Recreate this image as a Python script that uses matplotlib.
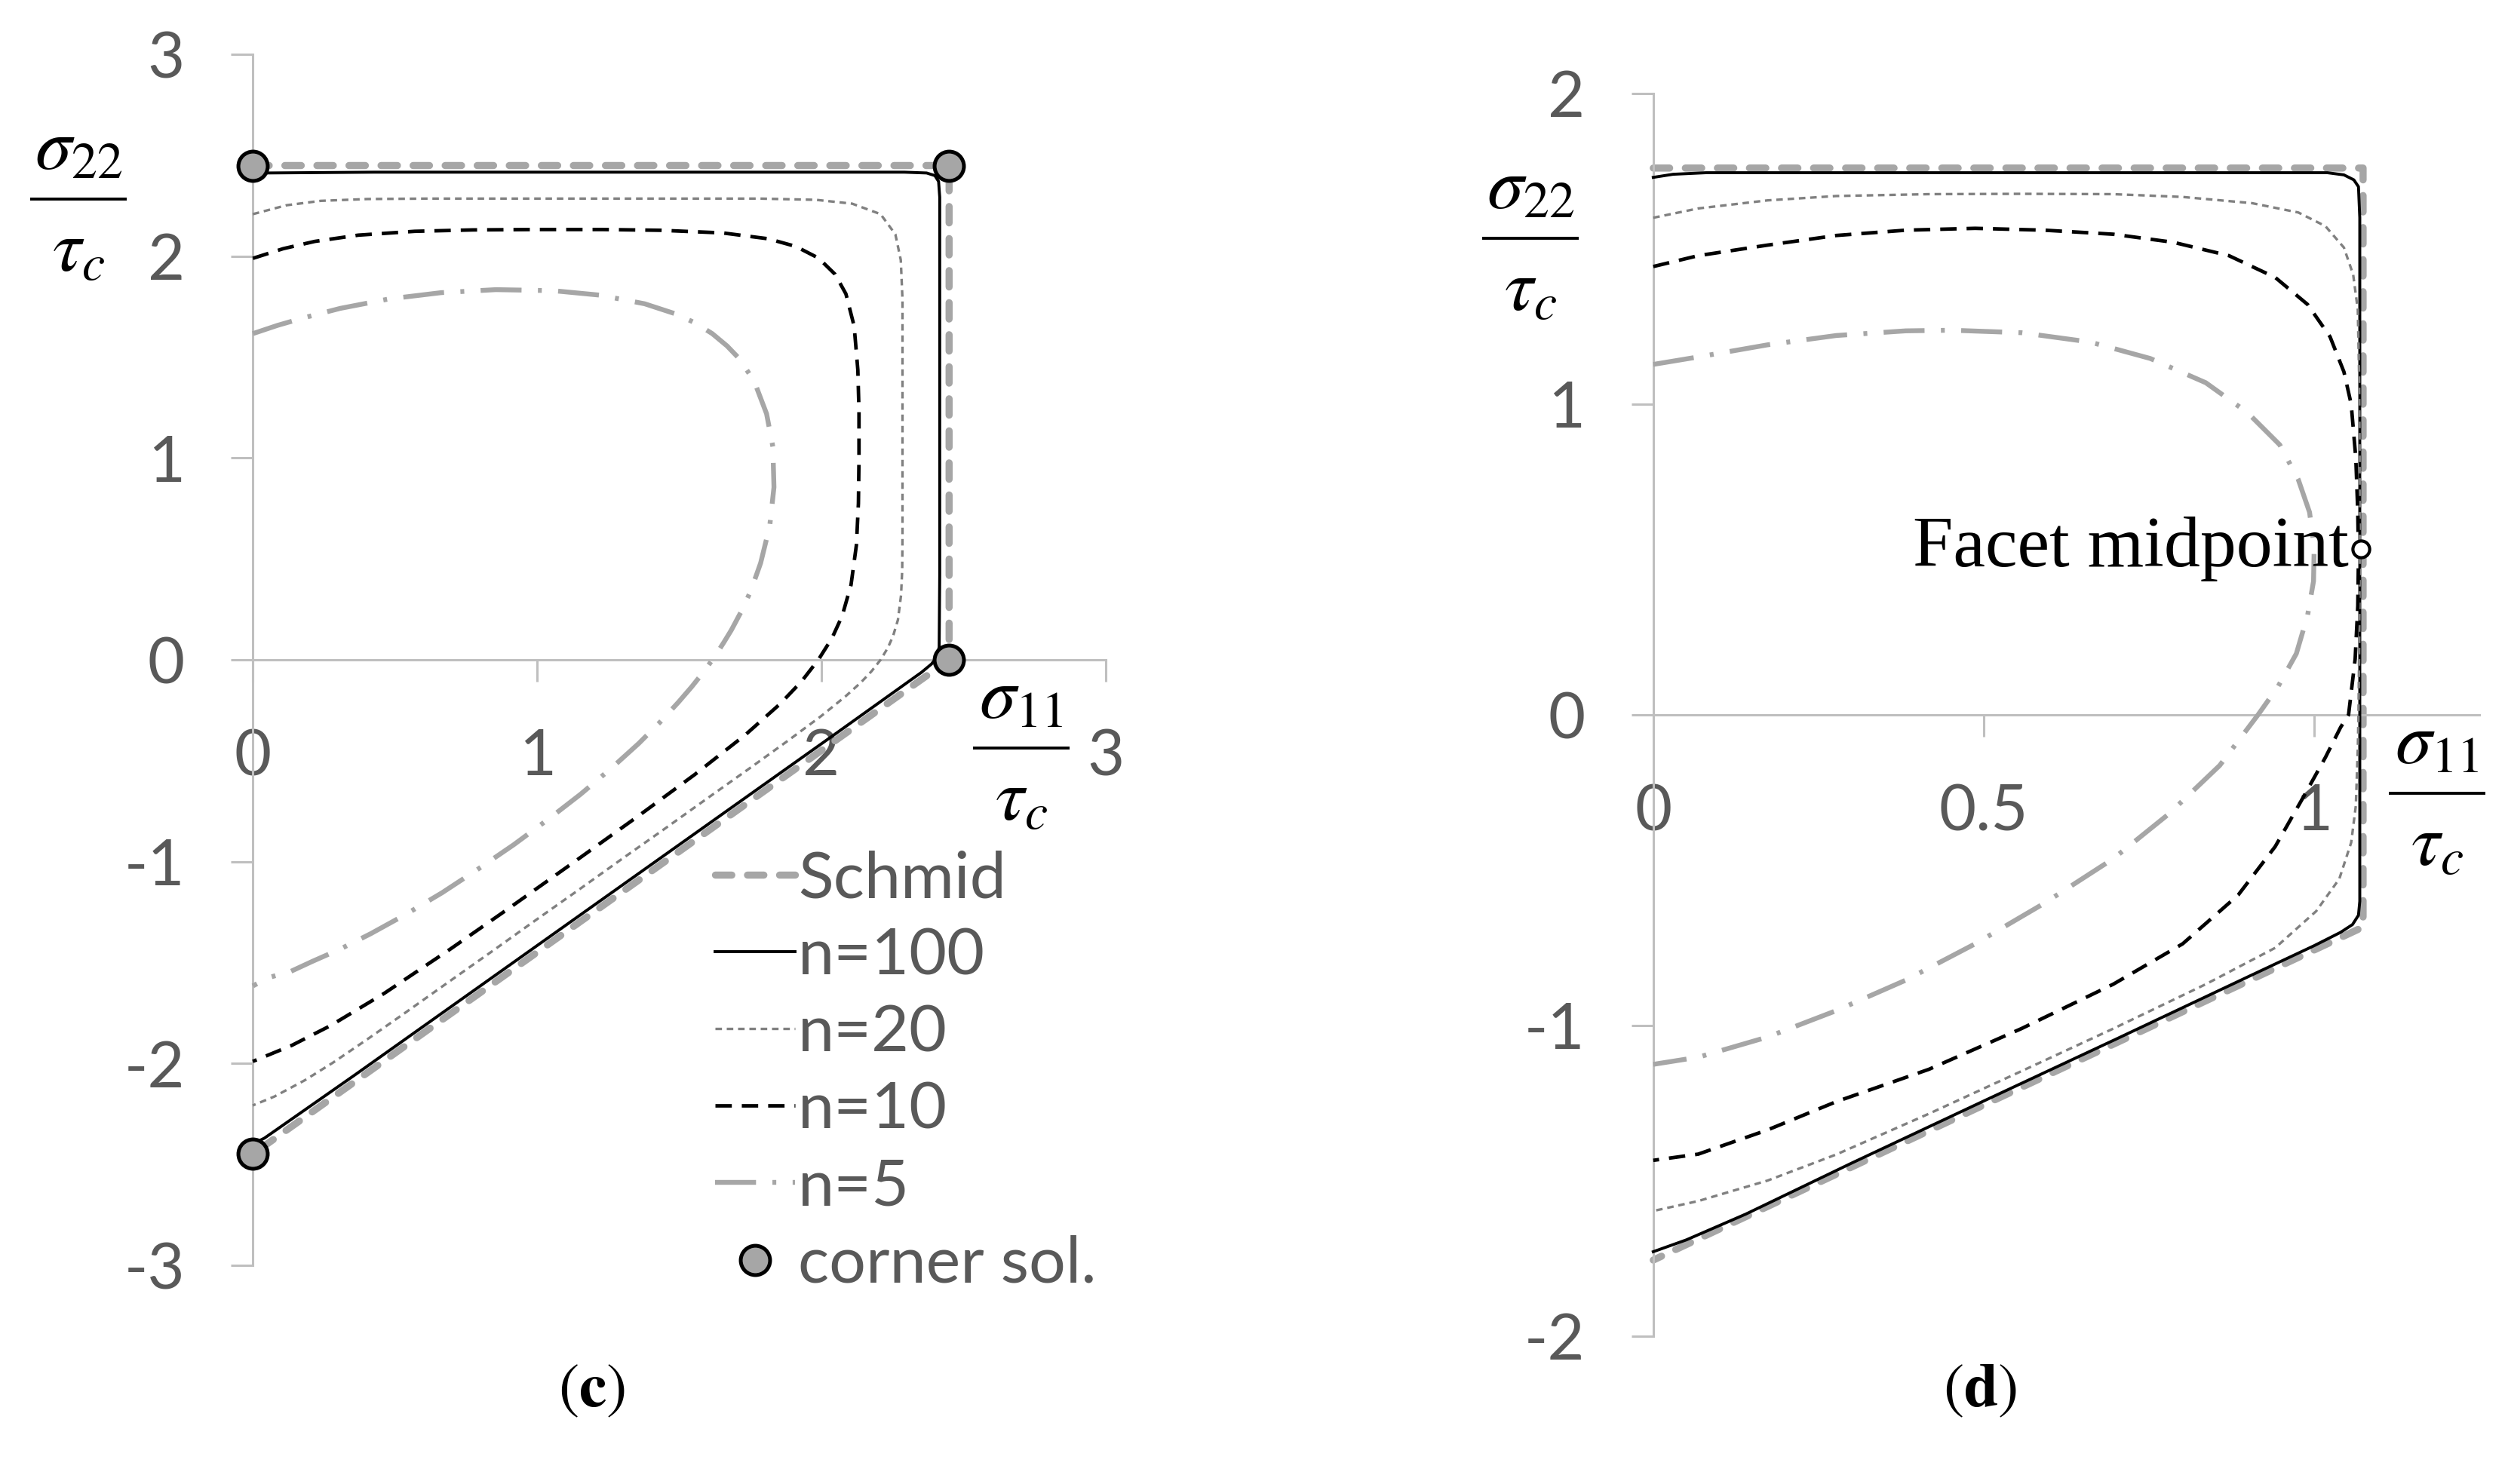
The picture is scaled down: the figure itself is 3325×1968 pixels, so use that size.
import matplotlib
matplotlib.use('Agg')
import matplotlib.pyplot as plt
from matplotlib.lines import Line2D

plt.rcParams['font.family'] = ['Lato', 'DejaVu Sans']
plt.rcParams['mathtext.fontset'] = 'stix'

# ================= panel (c) data =================
c_schmid_x = [0, 2.449, 2.449, 0]
c_schmid_y = [2.449, 2.449, 0, -2.449]
c_corner_x = [0, 2.449, 2.449, 0]
c_corner_y = [2.449, 2.449, 0, -2.449]

c_n100_x = [0.000, 0.042, 0.426, 0.879, 1.395, 2.027, 2.292, 2.370, 2.399, 2.412, 2.416, 2.416,
            2.416, 2.416, 2.416, 2.414, 2.408, 2.399, 2.387, 2.352, 2.054, 1.648, 1.208, 0.768,
            0.362, 0.041, 0.000]
c_n100_y = [2.399, 2.412, 2.416, 2.416, 2.416, 2.416, 2.416, 2.412, 2.399, 2.370, 2.292, 2.027,
            1.395, 0.879, 0.426, 0.063, 0.021, 0.000, -0.021, -0.062, -0.362, -0.768, -1.208,
            -1.648, -2.054, -2.370, -2.399]

c_n20_x = [0.000, 0.118, 0.239, 0.403, 0.612, 0.832, 1.066, 1.320, 1.542, 1.785, 1.981, 2.108,
           2.208, 2.260, 2.279, 2.285, 2.285, 2.285, 2.285, 2.285, 2.285, 2.284, 2.280, 2.269,
           2.252, 2.233, 2.208, 2.176, 2.139, 2.084, 1.997, 1.883, 1.750, 1.604, 1.449, 1.303,
           1.143, 0.982, 0.837, 0.681, 0.535, 0.400, 0.281, 0.182, 0.076, 0.000]
c_n20_y = [2.208, 2.252, 2.274, 2.283, 2.285, 2.285, 2.285, 2.285, 2.285, 2.285, 2.279, 2.260,
           2.208, 2.108, 1.981, 1.785, 1.542, 1.320, 1.066, 0.832, 0.612, 0.444, 0.320, 0.198,
           0.118, 0.058, 0.000, -0.057, -0.112, -0.182, -0.281, -0.400, -0.535, -0.681, -0.837,
           -0.982, -1.143, -1.303, -1.449, -1.604, -1.750, -1.883, -1.997, -2.084, -2.164, -2.208]

c_n10_x = [0.000, 0.107, 0.218, 0.371, 0.569, 0.775, 0.994, 1.231, 1.436, 1.653, 1.813, 1.910,
           1.990, 2.048, 2.086, 2.115, 2.128, 2.132, 2.132, 2.130, 2.123, 2.104, 2.073, 2.037,
           1.989, 1.930, 1.855, 1.733, 1.554, 1.355, 1.138, 0.901, 0.692, 0.462, 0.273, 0.138,
           0.000]
c_n10_y = [1.989, 2.037, 2.073, 2.104, 2.123, 2.130, 2.132, 2.132, 2.128, 2.115, 2.086, 2.048,
           1.990, 1.910, 1.813, 1.653, 1.436, 1.231, 0.994, 0.775, 0.569, 0.371, 0.218, 0.107,
           0.000, -0.107, -0.218, -0.371, -0.569, -0.775, -0.994, -1.231, -1.436, -1.653, -1.813,
           -1.910, -1.990]

c_n5_x = [0.000, 0.087, 0.178, 0.307, 0.479, 0.662, 0.855, 1.056, 1.219, 1.378, 1.489, 1.556,
          1.616, 1.668, 1.713, 1.764, 1.807, 1.829, 1.833, 1.818, 1.786, 1.751, 1.719, 1.683,
          1.657, 1.637, 1.616, 1.595, 1.573, 1.543, 1.497, 1.435, 1.357, 1.262, 1.153, 1.043,
          0.917, 0.786, 0.666, 0.536, 0.415, 0.305, 0.210, 0.135, 0.055, 0.000]
c_n5_y = [1.616, 1.657, 1.694, 1.741, 1.788, 1.819, 1.834, 1.829, 1.807, 1.764, 1.713, 1.669,
          1.616, 1.555, 1.489, 1.378, 1.219, 1.056, 0.855, 0.662, 0.479, 0.340, 0.242, 0.147,
          0.087, 0.043, 0.000, -0.042, -0.082, -0.135, -0.210, -0.305, -0.415, -0.536, -0.666,
          -0.786, -0.917, -1.043, -1.154, -1.263, -1.357, -1.435, -1.494, -1.543, -1.575, -1.616]

# ================= panel (d) data =================
d_schmid_x = [0, 1.074, 1.074, 0]
d_schmid_y = [1.760, 1.760, -0.683, -1.755]
d_n100_x = [0, 0.03, 0.08, 0.3, 0.6, 0.9, 1.02, 1.045, 1.060, 1.067, 1.069, 1.069, 1.069, 1.069,
            1.069, 1.067, 1.058, 1.040, 1.0, 0.9, 0.7, 0.5, 0.3, 0.14, 0.05, 0.0]
d_n100_y = [1.730, 1.740, 1.745, 1.745, 1.745, 1.745, 1.745, 1.738, 1.722, 1.700, 1.60, 1.0, 0.5,
            0.0, -0.60, -0.645, -0.675, -0.700, -0.743, -0.843, -1.044, -1.243, -1.443, -1.607,
            -1.690, -1.728]
d_n20_x = [0, 0.068, 0.173, 0.277, 0.417, 0.557, 0.696, 0.801, 0.906, 0.976, 1.017, 1.045, 1.059,
           1.066, 1.068, 1.069, 1.069, 1.068, 1.067, 1.066, 1.063, 1.056, 1.038, 1.003, 0.941,
           0.836, 0.696, 0.557, 0.417, 0.277, 0.173, 0.068, 0]
d_n20_y = [1.600, 1.630, 1.656, 1.670, 1.676, 1.677, 1.676, 1.667, 1.647, 1.617, 1.573, 1.504,
           1.417, 1.304, 1.088, 0.8, 0.5, 0.2, 0.0, -0.111, -0.293, -0.411, -0.528, -0.632,
           -0.750, -0.867, -1.010, -1.147, -1.284, -1.415, -1.499, -1.565, -1.597]
d_n10_x = [0, 0.068, 0.173, 0.277, 0.382, 0.487, 0.592, 0.696, 0.787, 0.871, 0.941, 0.990, 1.024,
           1.045, 1.056, 1.063, 1.066, 1.067, 1.066, 1.062, 1.052, 1.040, 1.017, 0.983, 0.941,
           0.885, 0.801, 0.696, 0.557, 0.417, 0.277, 0.173, 0.068, 0]
d_n10_y = [1.443, 1.478, 1.512, 1.543, 1.560, 1.566, 1.560, 1.547, 1.521, 1.478, 1.408, 1.321,
           1.217, 1.104, 1.000, 0.826, 0.652, 0.506, 0.35, 0.18, 0.0, -0.04, -0.137, -0.267,
           -0.424, -0.580, -0.737, -0.867, -1.010, -1.141, -1.245, -1.336, -1.414, -1.434]
d_n5_x = [0, 0.068, 0.173, 0.277, 0.382, 0.452, 0.557, 0.661, 0.752, 0.836, 0.899, 0.948, 0.976,
          0.993, 1.000, 0.999, 0.990, 0.973, 0.945, 0.915, 0.857, 0.780, 0.696, 0.592, 0.487,
          0.382, 0.277, 0.173, 0.068, 0]
d_n5_y = [1.128, 1.152, 1.191, 1.221, 1.236, 1.238, 1.230, 1.200, 1.147, 1.069, 0.973, 0.869,
          0.757, 0.652, 0.54, 0.43, 0.32, 0.197, 0.09, 0.0, -0.163, -0.319, -0.463, -0.606,
          -0.737, -0.854, -0.952, -1.037, -1.102, -1.125]
d_mid_x = [1.071]
d_mid_y = [0.535]

# ================= ticks / labels =================
c_xticks = [0, 1, 2, 3]
c_xlabels = ['0', '1', '2', '3']
c_yticks = [-3, -2, -1, 0, 1, 2, 3]
c_ylabels = ['-3', '-2', '-1', '0', '1', '2', '3']
d_xticks = [0, 0.5, 1]
d_xlabels = ['0', '0.5', '1']
d_yticks = [-2, -1, 0, 1, 2]
d_ylabels = ['-2', '-1', '0', '1', '2']

legend_labels = ['Schmid', 'n=100', 'n=20', 'n=10', 'n=5', 'corner sol.']

GRAY = '#a6a6a6'
DGRAY = '#808080'
styles = {
    'schmid': dict(color=GRAY, lw=6.8, dashes=(2.3, 2.2), dash_capstyle='round'),
    'n100': dict(color='black', lw=2.8),
    'n20': dict(color=DGRAY, lw=2.4, dashes=(2.6, 1.9)),
    'n10': dict(color='black', lw=3.4, dashes=(4.6, 2.8)),
    'n5': dict(color=GRAY, lw=4.6, dashes=(8.5, 3.4, 0.8, 3.4)),
}

W, H = 3325, 1968
fig = plt.figure(figsize=(W / 100, H / 100), dpi=100)
axc = fig.add_axes([0.1008, 0.1474, 0.3401, 0.8160])
axd = fig.add_axes([0.6592, 0.0996, 0.3294, 0.8374])


def style_axes(ax, xlim, ylim, xt, xl, yt, yl):
    ax.set_xlim(*xlim)
    ax.set_ylim(*ylim)
    for s in ['top', 'right']:
        ax.spines[s].set_visible(False)
    ax.spines['left'].set_position(('data', 0))
    ax.spines['bottom'].set_position(('data', 0))
    for s in ['left', 'bottom']:
        ax.spines[s].set_color('#bfbfbf')
        ax.spines[s].set_linewidth(2.2)
    ax.set_xticks(xt)
    ax.set_xticklabels(xl)
    ax.set_yticks(yt)
    ax.set_yticklabels(yl)
    ax.tick_params(axis='both', direction='out', length=21, width=2.2, color='#bfbfbf',
                   labelsize=61, labelcolor='#595959', pad=44)
    ax.patch.set_visible(False)


style_axes(axc, (0, 3), (-3, 3), c_xticks, c_xlabels, c_yticks, c_ylabels)
style_axes(axd, (0, 1.25), (-2, 2), d_xticks, d_xlabels, d_yticks, d_ylabels)

# ---------- panel c ----------
h = []
h.append(axc.plot(c_schmid_x, c_schmid_y, clip_on=False, zorder=2, **styles['schmid'])[0])
h.append(axc.plot(c_n100_x, c_n100_y, clip_on=False, zorder=3, **styles['n100'])[0])
h.append(axc.plot(c_n20_x, c_n20_y, clip_on=False, zorder=3, **styles['n20'])[0])
h.append(axc.plot(c_n10_x, c_n10_y, clip_on=False, zorder=3, **styles['n10'])[0])
h.append(axc.plot(c_n5_x, c_n5_y, clip_on=False, zorder=3, **styles['n5'])[0])
h.append(axc.plot(c_corner_x, c_corner_y, ls='none', marker='o', ms=28, mfc=GRAY, mec='black',
                  mew=3.6, clip_on=False, zorder=6)[0])
axc.legend(h, legend_labels, loc='upper left', bbox_to_anchor=(0.542, 0.343), frameon=False,
           fontsize=62, labelcolor='#595959', handlelength=1.23, handletextpad=0.05,
           labelspacing=0.28, borderpad=0, borderaxespad=0)

# ---------- panel d ----------
axd.plot(d_schmid_x, d_schmid_y, clip_on=False, zorder=2, **styles['schmid'])
axd.plot(d_n100_x, d_n100_y, clip_on=False, zorder=3, **styles['n100'])
axd.plot(d_n20_x, d_n20_y, clip_on=False, zorder=3, **styles['n20'])
axd.plot(d_n10_x, d_n10_y, clip_on=False, zorder=3, **styles['n10'])
axd.plot(d_n5_x, d_n5_y, clip_on=False, zorder=3, **styles['n5'])
axd.plot(d_mid_x, d_mid_y, ls='none', marker='o', ms=16, mfc='white', mec='black', mew=3.0,
         clip_on=False, zorder=6)
axd.annotate('Facet midpoint', (d_mid_x[0], d_mid_y[0]), xytext=(-12, 0),
             textcoords='offset points', ha='right', va='center', fontsize=69,
             family=['Liberation Serif', 'DejaVu Serif'], color='black')


# ---------- axis-label fractions (numerator / rule / denominator) ----------
def fraction(cx, bar_y, num, den, half=64):
    fig.text(cx / W, 1 - (bar_y - 40) / H, num, ha='center', va='baseline', fontsize=70,
             color='black')
    fig.add_artist(Line2D([(cx - half) / W, (cx + half) / W], [1 - bar_y / H] * 2,
                          transform=fig.transFigure, color='black', lw=2.8,
                          solid_capstyle='butt'))
    fig.text(cx / W, 1 - (bar_y + 96) / H, den, ha='center', va='baseline', fontsize=70,
             color='black')


fraction(104, 264, r'$\sigma_{22}$', r'$\tau_c$')
fraction(1354, 992, r'$\sigma_{11}$', r'$\tau_c$')
fraction(2029, 316, r'$\sigma_{22}$', r'$\tau_c$')
fraction(3231, 1052, r'$\sigma_{11}$', r'$\tau_c$')

cap_kw = dict(ha='center', va='center', fontsize=59, color='black')
fig.text(0.2361, 0.0625, r'$(\mathbf{c})$', **cap_kw)
fig.text(0.7895, 0.0625, r'$(\mathbf{d})$', **cap_kw)

fig.savefig('out.png', dpi=100, facecolor='white')
